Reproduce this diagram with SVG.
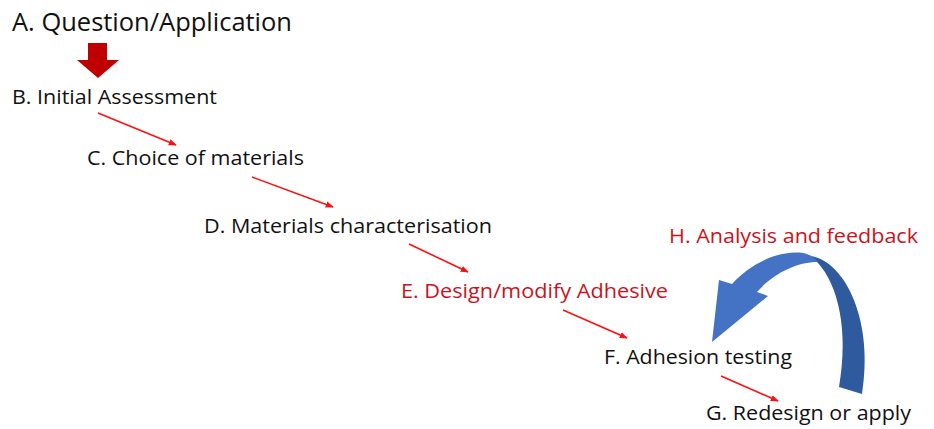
<svg xmlns="http://www.w3.org/2000/svg" width="934" height="429" viewBox="0 0 934 429">
<defs>
<style>
.t{font-family:"Open Sans","Liberation Sans",sans-serif;fill:#111}
.r{fill:#C8141E}
.c{stroke:#FF1010;stroke-width:1.6;fill:none;marker-end:url(#ah)}
</style>
<marker id="ah" viewBox="0 0 10 10" refX="9" refY="5" markerWidth="5" markerHeight="5" orient="auto" markerUnits="strokeWidth">
<path d="M0,1 L10,5 L0,9 Z" fill="#FF1010"/>
</marker>
</defs>
<rect width="934" height="429" fill="#fff"/>
<g id="A"><text class="t" x="12" y="31" font-size="26" textLength="280" lengthAdjust="spacingAndGlyphs">A. Question/Application</text></g>
<g id="B"><text class="t" x="12" y="104" font-size="20.5" textLength="205" lengthAdjust="spacingAndGlyphs">B. Initial Assessment</text></g>
<g id="C"><text class="t" x="87" y="165" font-size="20.5" textLength="217" lengthAdjust="spacingAndGlyphs">C. Choice of materials</text></g>
<g id="D"><text class="t" x="204" y="233" font-size="20.5" textLength="288" lengthAdjust="spacingAndGlyphs">D. Materials characterisation</text></g>
<g id="E"><text class="t r" x="401" y="298" font-size="20.5" textLength="267" lengthAdjust="spacingAndGlyphs">E. Design/modify Adhesive</text></g>
<g id="F"><text class="t" x="604" y="364" font-size="20.5" textLength="188" lengthAdjust="spacingAndGlyphs">F. Adhesion testing</text></g>
<g id="G"><text class="t" x="706" y="420" font-size="20.5" textLength="205" lengthAdjust="spacingAndGlyphs">G. Redesign or apply</text></g>
<g id="H"><text class="t r" x="669" y="243" font-size="20.5" textLength="249" lengthAdjust="spacingAndGlyphs">H. Analysis and feedback</text></g>
<g id="connectors">
<path d="M88,43 H107 V60 H119 L98,78 L77,60 H88 Z" fill="#C00000"/>
<path class="c" d="M98,113 L176,145"/>
<path class="c" d="M252,177 L333,207"/>
<path class="c" d="M409,244 L468,272"/>
<path class="c" d="M563,310 L627,338"/>
<path class="c" d="M721,376 L778,401"/>
<path d="M811,256 C846,262 874,322 862,394 L839,387 C849,330 838,285 818,263 Z" fill="#2F5A9E"/>
<path d="M712,342 L719,280 L732,284 C752,262 780,250 803,253 C809,254 814,257 818,262 C795,262 772,275 757,292 L768,296 Z" fill="#4472C4"/>
</g>
</svg>
